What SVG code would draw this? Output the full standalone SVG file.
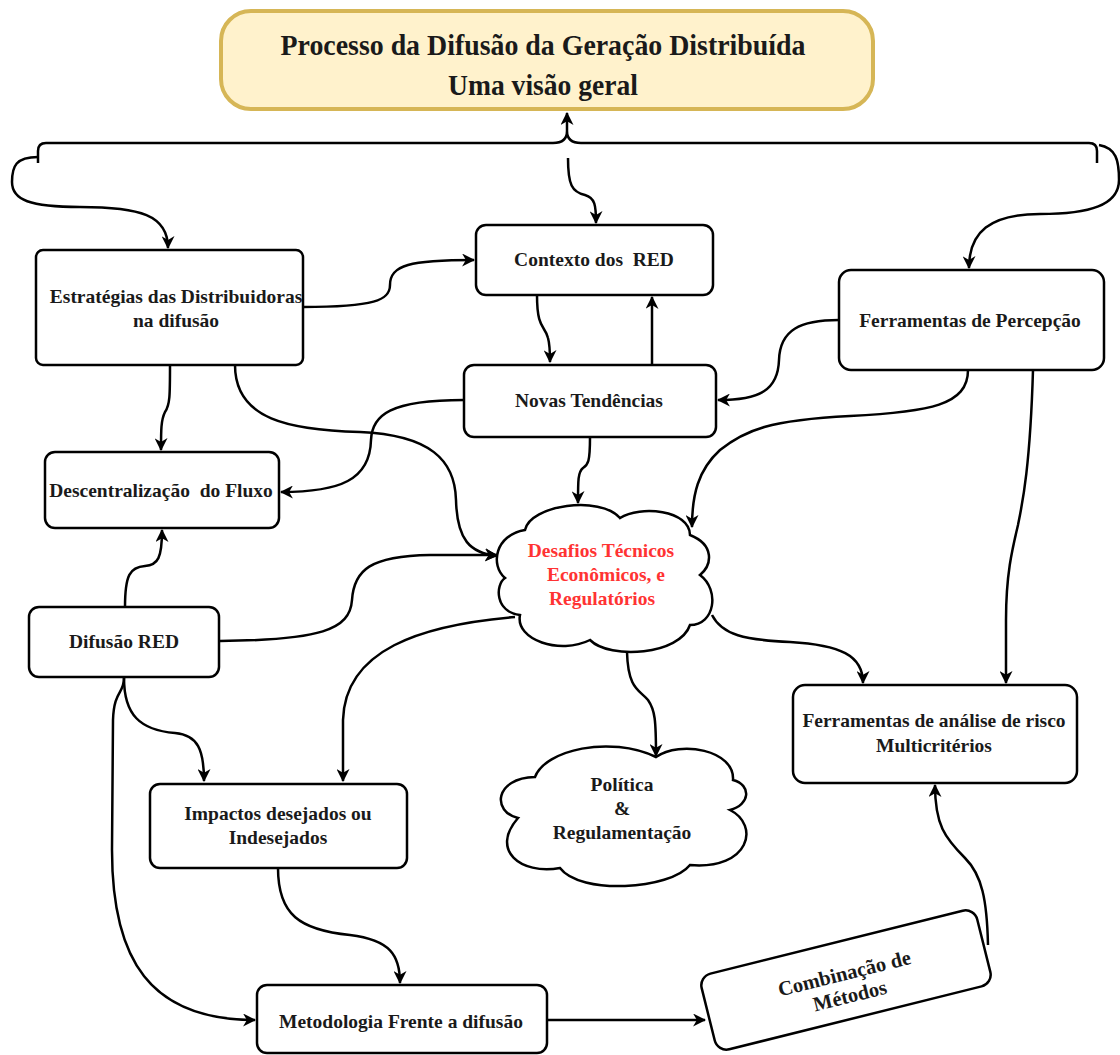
<svg xmlns="http://www.w3.org/2000/svg" width="1120" height="1055" viewBox="0 0 1120 1055">
<style>
.box{fill:#ffffff;stroke:#000000;stroke-width:2.5}
.t{font-family:"Liberation Serif","Times New Roman",serif;font-weight:bold;font-size:19.5px;fill:#1a1a1a;text-anchor:middle;white-space:pre}
.tt{font-size:30px}
.red{fill:#ff3333}
.c{fill:none;stroke:#000000;stroke-width:2.5}
.a{marker-end:url(#arr)}
</style>
<defs>
<marker id="arr" viewBox="0 0 12 12" refX="11" refY="6" markerWidth="13" markerHeight="13" orient="auto" markerUnits="userSpaceOnUse">
<path d="M0,0 L12,6 L0,12 L3.5,6 Z" fill="#000000"/>
</marker>
</defs>
<rect width="1120" height="1055" fill="#ffffff"/>

<g id="title">
<rect x="221" y="11" width="652" height="98" rx="30" fill="#fff2cc" stroke="#d6b656" stroke-width="4"/>
<text class="t tt" x="543" y="55" textLength="525" lengthAdjust="spacingAndGlyphs">Processo da Difusão da Geração Distribuída</text>
<text class="t tt" x="543" y="95" textLength="190" lengthAdjust="spacingAndGlyphs">Uma visão geral</text>
</g>

<g id="estrategias">
<rect class="box" x="36" y="250" width="267" height="115" rx="7"/>
<text class="t" x="176" y="303">Estratégias das Distribuidoras</text>
<text class="t" x="176" y="327">na difusão</text>
</g>

<g id="contexto">
<rect class="box" x="476" y="225" width="237" height="70" rx="10"/>
<text class="t" x="594" y="266">Contexto dos  RED</text>
</g>

<g id="novas">
<rect class="box" x="464" y="365" width="252" height="72" rx="10"/>
<text class="t" x="589" y="407">Novas Tendências</text>
</g>

<g id="percepcao">
<rect class="box" x="839" y="270" width="265" height="100" rx="12"/>
<text class="t" x="970" y="327">Ferramentas de Percepção</text>
</g>

<g id="descentralizacao">
<rect class="box" x="45" y="452" width="234" height="76" rx="10"/>
<text class="t" x="161" y="497">Descentralização  do Fluxo</text>
</g>

<g id="difusao">
<rect class="box" x="29" y="607" width="190" height="70" rx="10"/>
<text class="t" x="124" y="648">Difusão RED</text>
</g>

<g id="desafios">
<path class="box" d="M505,578 C490,565 495,535 525,530 C530,505 600,495 620,518 C640,505 690,510 690,535 C715,545 712,565 700,575 C720,590 715,625 690,625 C680,655 610,660 590,640 C560,655 515,640 520,615 C495,612 495,585 505,578 Z"/>
<text class="t red" x="601" y="557">Desafios Técnicos</text>
<text class="t red" x="606" y="581">Econômicos, e</text>
<text class="t red" x="602" y="605">Regulatórios</text>
</g>

<g id="impactos">
<rect class="box" x="150" y="784" width="257" height="84" rx="10"/>
<text class="t" x="278" y="820">Impactos desejados ou</text>
<text class="t" x="278" y="844">Indesejados</text>
</g>

<g id="politica">
<path class="box" d="M518,818 C492,812 494,778 535,777 C545,750 610,735 656,757 C680,740 735,750 733,780 C752,785 750,805 730,810 C760,825 750,870 690,865 C670,890 580,895 560,868 C520,875 490,850 518,818 Z"/>
<text class="t" x="622" y="791">Política</text>
<text class="t" x="622" y="815">&amp;</text>
<text class="t" x="622" y="839">Regulamentação</text>
</g>

<g id="analise">
<rect class="box" x="793" y="685" width="284" height="98" rx="12"/>
<text class="t" x="934" y="727">Ferramentas de análise de risco</text>
<text class="t" x="934" y="752">Multicritérios</text>
</g>

<g id="metodologia">
<rect class="box" x="257" y="985" width="290" height="68" rx="10"/>
<text class="t" x="401" y="1028">Metodologia Frente a difusão</text>
</g>

<g id="combinacao" transform="translate(846,980) rotate(-14)">
<rect class="box" x="-142" y="-39" width="284" height="78" rx="12"/>
<text class="t" x="0" y="0" style="font-size:20.5px">Combinação de</text>
<text class="t" x="0" y="23" style="font-size:20.5px">Métodos</text>
</g>

<g id="connectors">
<path class="c" d="M38,163 L38,151 Q38,143 46,143 L553,143 Q567,143 567,131 Q567,143 581,143 L1089,143 Q1097,143 1097,151 L1097,163"/>
<path class="c a" d="M567,131 L567,113"/>
<path class="c a" d="M38,157 C16,157 12,166 12,182 C12,200 30,207 80,207 C140,207 168,215 168,248"/>
<path class="c a" d="M1099,145 C1116,148 1119,160 1119,180 C1119,205 1090,214 1040,214 C990,214 969,232 969,268"/>
<path class="c a" d="M568,158 C568,185 572,192 585,195 C595,198 596,205 596,223"/>
<path class="c a" d="M303,307 C375,307 390,300 390,285 C390,265 410,260 474,260"/>
<path class="c a" d="M537,295 C537,330 545,325 548,338 C550,345 550,350 550,362"/>
<path class="c a" d="M652,365 L652,297"/>
<path class="c a" d="M839,320 C800,320 780,330 779,360 C778,390 760,400 718,400"/>
<path class="c a" d="M968,370 C968,405 930,412 850,416 C770,420 745,430 720,450 C698,470 692,495 692,527"/>
<path class="c a" d="M1033,370 C1030,470 1022,505 1018,525 C1012,550 1006,575 1006,620 L1006,683"/>
<path class="c a" d="M464,400 C390,400 372,415 371,440 C370,480 340,492 281,492"/>
<path class="c a" d="M590,437 C590,462 588,465 583,468 C578,472 578,480 578,503"/>
<path class="c a" d="M170,365 C170,395 170,405 165,412 C161,420 161,430 161,450"/>
<path class="c a" d="M235,365 C235,420 290,430 360,432 C430,435 455,460 456,500 C457,540 470,553 497,556"/>
<path class="c a" d="M125,607 C125,575 130,567 145,566 C158,565 162,558 162,530"/>
<path class="c a" d="M220,641 C320,640 350,630 352,600 C354,570 370,556 430,555 L497,555"/>
<path class="c a" d="M124,678 C124,715 140,730 175,733 C198,735 204,750 204,781"/>
<path class="c a" d="M124,678 C124,694 114,690 113,720 L112,850 C112,960 150,1020 255,1020"/>
<path class="c a" d="M515,617 C420,625 345,650 343,720 L343,781"/>
<path class="c a" d="M627,652 C628,690 640,690 648,700 C655,710 656,720 656,756"/>
<path class="c a" d="M712,615 C722,635 745,640 790,642 C840,645 863,655 863,683"/>
<path class="c a" d="M278,868 C278,915 300,930 350,935 C390,940 400,955 400,983"/>
<path class="c a" d="M547,1020 L705,1020"/>
<path class="c a" d="M988,945 C987,900 982,875 965,858 C945,838 935,825 935,785"/>
</g>
</svg>
